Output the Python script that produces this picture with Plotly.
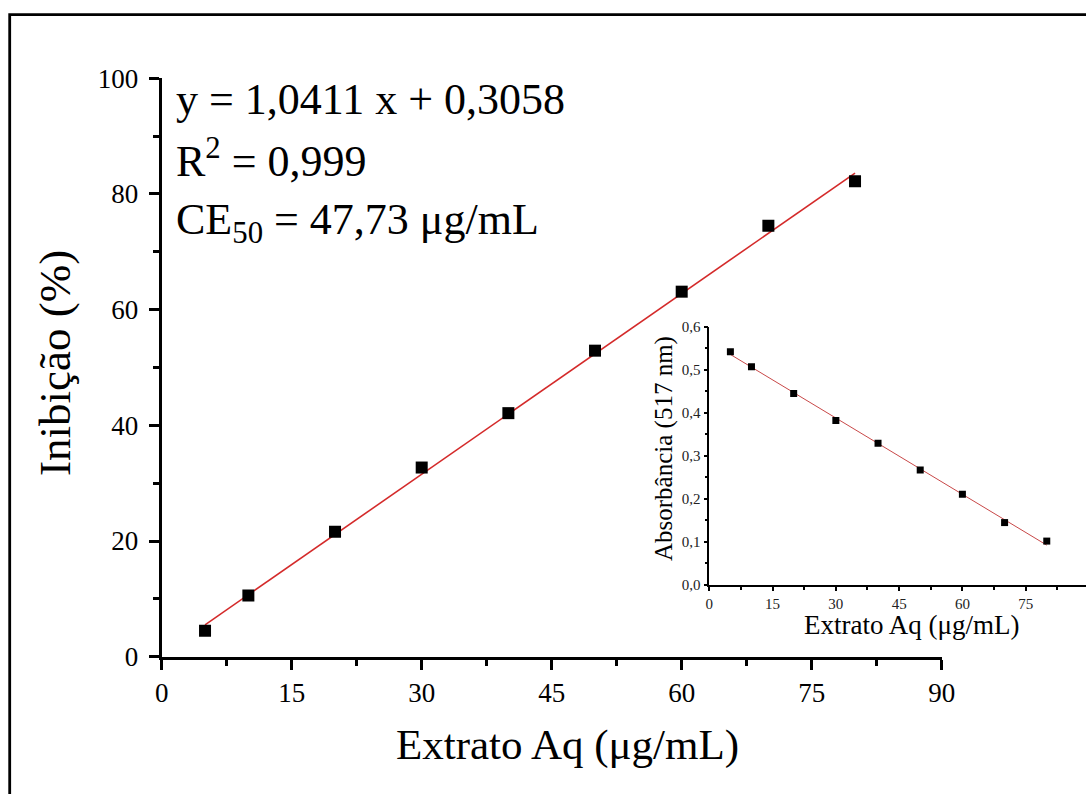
import numpy as np
import plotly.graph_objects as go

# Inhibition of DPPH radical by the aqueous extract
conc = [5, 10, 20, 30, 40, 50, 60, 70, 80]
inhibition = [4.5, 10.6, 21.6, 32.7, 42.1, 52.9, 63.1, 74.5, 82.2]

# Absorbance at 517 nm for the same concentrations (inset)
absorbance = [0.542, 0.507, 0.445, 0.382, 0.329, 0.267, 0.211, 0.145, 0.102]

# Linear regression reported for the inhibition curve
slope, intercept = 1.0411, 0.3058

main_xticks = [0, 15, 30, 45, 60, 75, 90]
main_yticks = [0, 20, 40, 60, 80, 100]
inset_xticks = [0, 15, 30, 45, 60, 75, 90]
inset_yticks = [0.0, 0.1, 0.2, 0.3, 0.4, 0.5, 0.6]

W, H = 1086, 794
FONT = "Liberation Serif, Times New Roman, serif"


def fx(p):
    return p / W


def fy(p):
    return 1 - p / H


fit_x = np.array([conc[0], conc[-1]], dtype=float)
fit_y = slope * fit_x + intercept

inset_coef = np.polyfit(conc, absorbance, 1)
inset_fit_y = np.polyval(inset_coef, fit_x)

fig = go.Figure()

fig.add_trace(go.Scatter(
    x=fit_x, y=fit_y, mode="lines",
    line=dict(color="#d42a2a", width=1.6),
    xaxis="x", yaxis="y", showlegend=False, hoverinfo="skip"))
fig.add_trace(go.Scatter(
    x=conc, y=inhibition, mode="markers",
    marker=dict(symbol="square", size=12, color="black"),
    xaxis="x", yaxis="y", showlegend=False))

fig.add_trace(go.Scatter(
    x=fit_x, y=inset_fit_y, mode="lines",
    line=dict(color="#c84848", width=1.0),
    xaxis="x2", yaxis="y2", showlegend=False, hoverinfo="skip"))
fig.add_trace(go.Scatter(
    x=conc, y=absorbance, mode="markers",
    marker=dict(symbol="square", size=7, color="black"),
    xaxis="x2", yaxis="y2", showlegend=False))

main_axis = dict(
    showline=True, linecolor="black", linewidth=3.2, mirror=False,
    ticks="outside", ticklen=10, tickwidth=3.2, tickcolor="black",
    showgrid=False, zeroline=False,
    tickfont=dict(family=FONT, size=27, color="black"),
)
inset_axis = dict(
    showline=True, linecolor="black", linewidth=1.6, mirror=False,
    ticks="outside", ticklen=4, tickwidth=1.6, tickcolor="black",
    showgrid=False, zeroline=False,
    tickfont=dict(family=FONT, size=15, color="#222222"),
)

fig.update_layout(
    width=W, height=H,
    margin=dict(l=0, r=0, t=0, b=0, autoexpand=False),
    paper_bgcolor="white", plot_bgcolor="rgba(0,0,0,0)",
    separators=",.",
    xaxis=dict(main_axis, domain=[fx(161.7), fx(941.7)], range=[0, 90],
               tickvals=main_xticks, anchor="y",
               minor=dict(dtick=7.5, tick0=0, ticks="outside", ticklen=6,
                          tickwidth=3.2, tickcolor="black")),
    yaxis=dict(main_axis, domain=[fy(656.7), fy(78.2)], range=[0, 100],
               tickvals=main_yticks, anchor="x", ticklabelstandoff=5,
               minor=dict(dtick=10, tick0=0, ticks="outside", ticklen=6,
                          tickwidth=3.2, tickcolor="black")),
    xaxis2=dict(inset_axis, domain=[fx(709.3), 1.0], range=[0, 89.3],
                tickvals=inset_xticks, anchor="y2",
                minor=dict(dtick=7.5, tick0=0, ticks="outside", ticklen=3,
                           tickwidth=1.6, tickcolor="black")),
    yaxis2=dict(inset_axis, domain=[fy(585), fy(326.7)], range=[0, 0.6],
                tickvals=inset_yticks, tickformat=".1f", anchor="x2",
                minor=dict(dtick=0.05, tick0=0, ticks="outside", ticklen=3,
                           tickwidth=1.6, tickcolor="black")),
)

annotations = [
    dict(text="Inibição (%)", x=fx(55), y=fy(363), textangle=-90,
         font=dict(size=45, family=FONT, color="black")),
    dict(text="Extrato Aq (μg/mL)", x=fx(567), y=fy(745),
         font=dict(size=43, family=FONT, color="black")),
    dict(text="Absorbância (517 nm)", x=fx(664), y=fy(449), textangle=-90,
         font=dict(size=25, family=FONT, color="black")),
    dict(text="Extrato Aq (μg/mL)", x=fx(911), y=fy(625),
         font=dict(size=27, family=FONT, color="black")),
    dict(text="y = 1,0411 x + 0,3058", x=fx(174), y=fy(99),
         xanchor="left", font=dict(size=44, family=FONT, color="black")),
    dict(text="R<sup>2</sup> = 0,999", x=fx(174), y=fy(158),
         xanchor="left", font=dict(size=44, family=FONT, color="black")),
    dict(text="CE<sub>50</sub> = 47,73 μg/mL", x=fx(174), y=fy(222),
         xanchor="left", font=dict(size=44, family=FONT, color="black")),
]
for a in annotations:
    a.update(xref="paper", yref="paper", showarrow=False)
    a.setdefault("xanchor", "center")
    a.setdefault("yanchor", "middle")
fig.update_layout(annotations=annotations)

# Frame around the figure (continues past the right and bottom edges)
fig.add_shape(type="rect", xref="paper", yref="paper",
              x0=fx(9.7), y0=-0.05, x1=1.05, y1=fy(14.7),
              line=dict(color="black", width=2.8), layer="above")

fig.write_html("out.html")
